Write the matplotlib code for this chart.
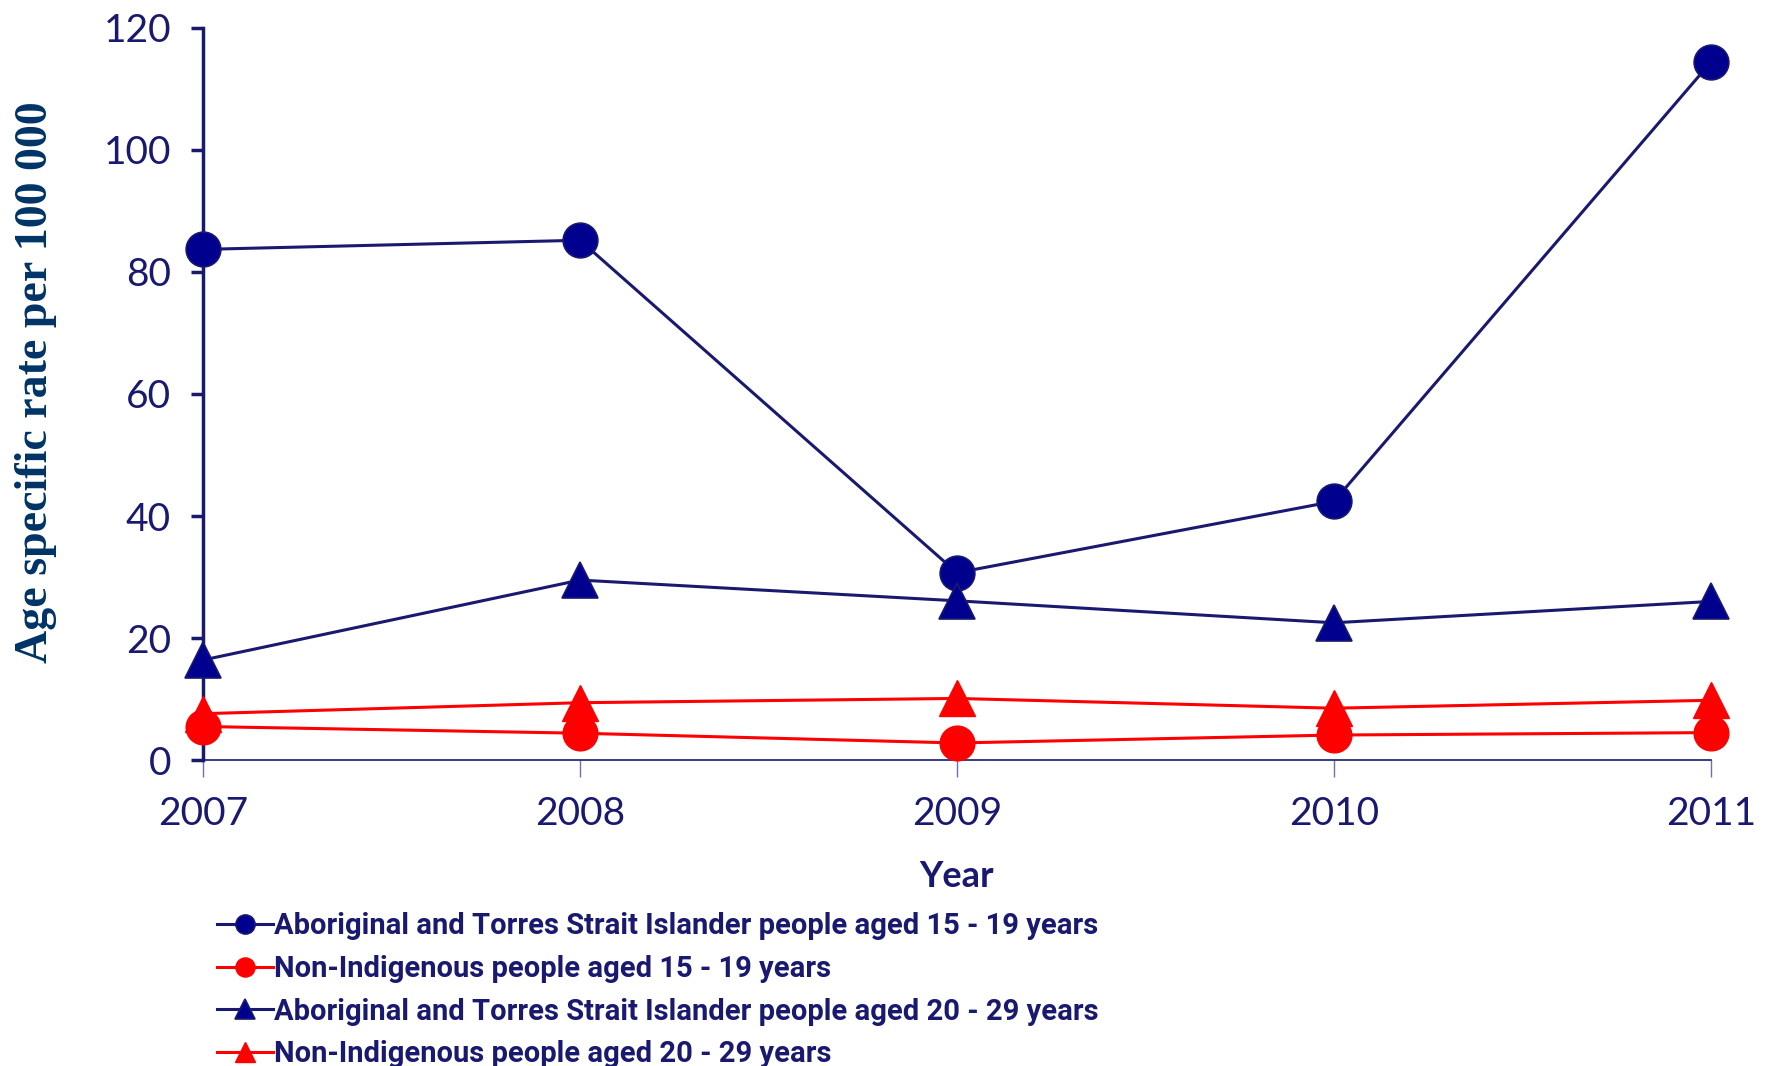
import matplotlib
matplotlib.use("Agg")
import matplotlib.pyplot as plt
from matplotlib import font_manager

# Data: age specific rate per 100 000
years = [2007, 2008, 2009, 2010, 2011]
atsi_15_19 = [83.7, 85.2, 30.7, 42.4, 114.4]
nonind_15_19 = [5.5, 4.4, 2.8, 4.1, 4.5]
atsi_20_29 = [16.4, 29.5, 26.1, 22.5, 26.0]
nonind_20_29 = [7.6, 9.4, 10.1, 8.5, 9.8]

labels = [
    "Aboriginal and Torres Strait Islander people aged 15 - 19 years",
    "Non-Indigenous people aged 15 - 19 years",
    "Aboriginal and Torres Strait Islander people aged 20 - 29 years",
    "Non-Indigenous people aged 20 - 29 years",
]
y_ticks = [0, 20, 40, 60, 80, 100, 120]

NAVY = "#191970"
MARK = "#00008f"
RED = "#ff0000"
YLAB = "#003366"

def pick(*names):
    avail = {f.name for f in font_manager.fontManager.ttflist}
    for n in names:
        if n in avail:
            return n
    return "DejaVu Sans"

tick_font = pick("Lato", "Open Sans", "DejaVu Sans")
legend_font = pick("Liberation Sans Narrow", "Roboto", "DejaVu Sans")
serif_font = pick("Liberation Serif", "DejaVu Serif")

fig = plt.figure(figsize=(17.73, 10.66), dpi=100)
ax = fig.add_axes([0.1145, 0.287, 0.8505, 0.6868])

ax.plot(years, atsi_15_19, color=NAVY, lw=2.2, marker="o", ms=25,
        mfc=MARK, mec=NAVY, mew=1.2, label=labels[0], zorder=3, clip_on=False)
ax.plot(years, nonind_15_19, color=RED, lw=2.2, marker="o", ms=25,
        mfc=RED, mec=RED, label=labels[1], zorder=3, clip_on=False)
ax.plot(years, atsi_20_29, color=NAVY, lw=2.2, marker="^", ms=26,
        mfc=MARK, mec=NAVY, mew=1.2, label=labels[2], zorder=3, clip_on=False)
ax.plot(years, nonind_20_29, color=RED, lw=2.2, marker="^", ms=26,
        mfc=RED, mec=RED, label=labels[3], zorder=3, clip_on=False)

ax.set_xlim(years[0], years[-1])
ax.set_ylim(0, 120)
ax.set_yticks(y_ticks)
ax.set_xticks(years)
ax.set_xticklabels([str(y) for y in years])

for s in ["top", "right"]:
    ax.spines[s].set_visible(False)
ax.spines["left"].set_color(NAVY)
ax.spines["left"].set_linewidth(2.5)
ax.spines["bottom"].set_color(NAVY)
ax.spines["bottom"].set_linewidth(1.2)
ax.spines["left"].set_zorder(2)

ax.tick_params(axis="y", direction="out", length=9, width=2.5, color=NAVY,
               labelsize=28, labelcolor=NAVY, pad=14)
ax.tick_params(axis="x", direction="out", length=12, width=1, color="#7070b0",
               labelsize=28, labelcolor=NAVY, pad=14)
for t in ax.get_xticklabels() + ax.get_yticklabels():
    t.set_fontfamily(tick_font)

ax.set_xlabel("Year", fontsize=26, fontweight="bold", color=NAVY,
              family=tick_font, labelpad=20)
ax.set_ylabel("Age specific rate per 100 000", fontsize=33, fontweight="bold",
              color=YLAB, family=serif_font)
ax.yaxis.set_label_coords(-0.097, 0.516)

leg = fig.legend(loc="upper left", bbox_to_anchor=(0.116, 0.155), frameon=False,
                 prop={"family": legend_font, "weight": "bold", "size": 21},
                 handlelength=1.9, handletextpad=0.05, labelspacing=0.50,
                 borderaxespad=0, markerscale=0.55)
for t in leg.get_texts():
    t.set_color(NAVY)

fig.savefig("out.png", dpi=100)
